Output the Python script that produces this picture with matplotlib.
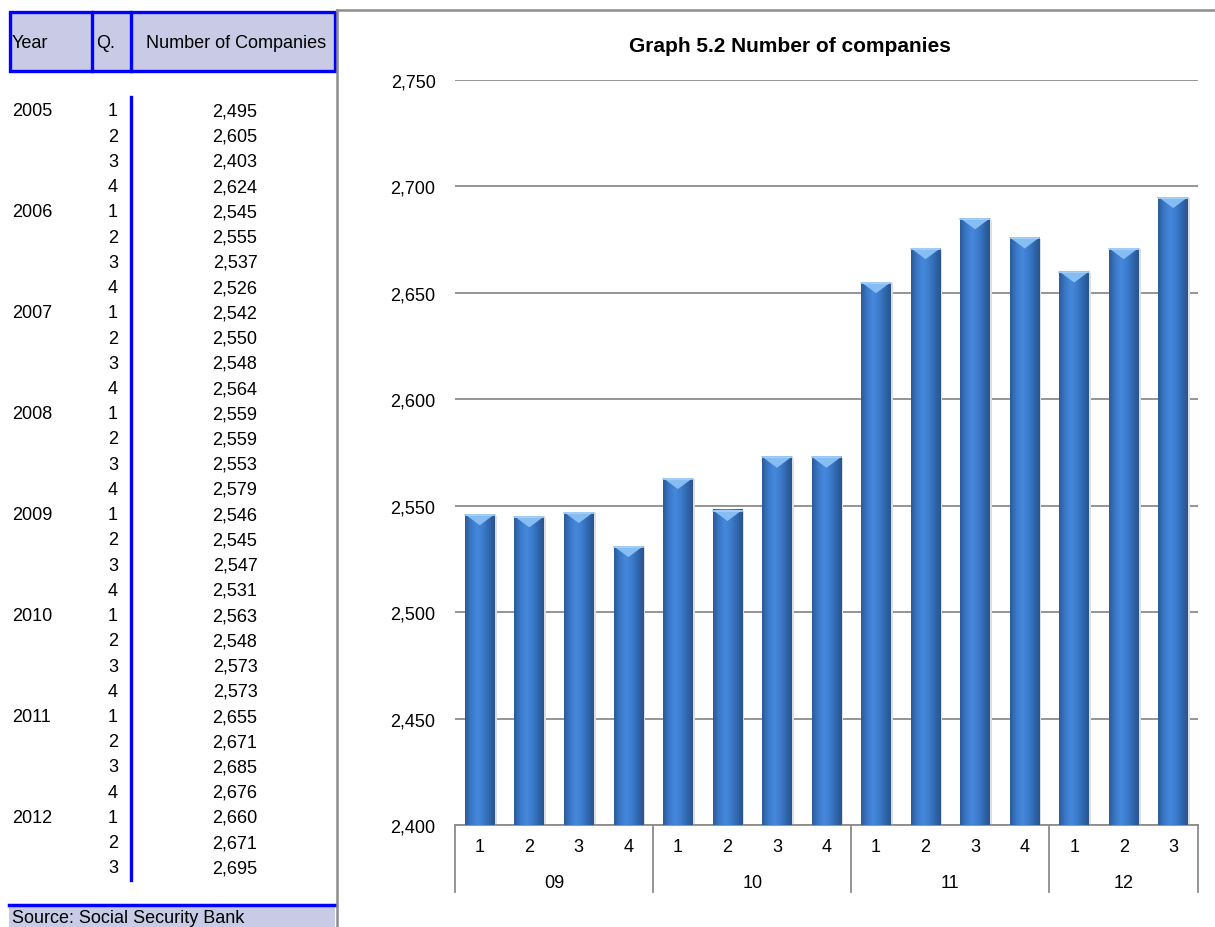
import matplotlib
matplotlib.use('Agg')
import matplotlib.pyplot as plt
import numpy as np
from matplotlib.patches import Rectangle, Polygon
from matplotlib.colors import LinearSegmentedColormap
from matplotlib.ticker import FuncFormatter
import matplotlib.transforms as mtrans

plt.rcParams['font.family'] = ['Liberation Sans', 'DejaVu Sans']

# table data
years = ['2005', '2006', '2007', '2008', '2009', '2010', '2011', '2012']
quarters_per_year = [4, 4, 4, 4, 4, 4, 4, 3]
counts = [2495, 2605, 2403, 2624,
          2545, 2555, 2537, 2526,
          2542, 2550, 2548, 2564,
          2559, 2559, 2553, 2579,
          2546, 2545, 2547, 2531,
          2563, 2548, 2573, 2573,
          2655, 2671, 2685, 2676,
          2660, 2671, 2695]

# chart data (2009 onwards)
group_labels = ['09', '10', '11', '12']
group_sizes = [4, 4, 4, 3]
chart_counts = counts[16:]

W, H = 1215, 928
fig = plt.figure(figsize=(W / 100, H / 100), dpi=100)

blue = '#0000ff'
lav = '#c8cae6'
gray = '#8c8c8c'
fs = 13

# ---- left table, drawn in pixel space ----
ov = fig.add_axes([0, 0, 1, 1])
ov.set_xlim(0, W)
ov.set_ylim(H, 0)
ov.axis('off')

ov.add_patch(Rectangle((10, 13), 325, 59, facecolor=lav, edgecolor=blue, lw=2.4))
ov.plot([92, 92], [13, 72], color=blue, lw=2.4)
ov.plot([131, 131], [13, 72], color=blue, lw=2.4)
ov.text(12, 43, 'Year', fontsize=fs, va='center', ha='left')
ov.text(96, 43, 'Q.', fontsize=fs, va='center', ha='left')
ov.text(236, 43, 'Number of Companies', fontsize=fs, va='center', ha='center')

row_y0, row_dy = 112, 25.23
i = 0
for yr, nq in zip(years, quarters_per_year):
    for q in range(nq):
        y = row_y0 + i * row_dy
        if q == 0:
            ov.text(12, y, yr, fontsize=fs, va='center', ha='left')
        ov.text(118, y, str(q + 1), fontsize=fs, va='center', ha='right')
        ov.text(235, y, f'{counts[i]:,}', fontsize=fs, va='center', ha='center')
        i += 1
ov.plot([131, 131], [98, 881], color=blue, lw=2.4)

# source box
ov.add_patch(Rectangle((9, 906), 326, 30, facecolor=lav, edgecolor='none'))
ov.plot([9, 335], [906, 906], color=blue, lw=2.5)
ov.text(12, 919, 'Source: Social Security Bank', fontsize=fs, va='center', ha='left')

# gray frame around chart area
ov.plot([337, 337], [11, H], color=gray, lw=1.8)
ov.plot([337, W], [11, 11], color=gray, lw=1.8)

# ---- bar chart ----
ax = fig.add_axes([455 / W, 1 - 826 / H, 743 / W, 745 / H])
ymin, ymax = 2400, 2750
x = np.arange(len(chart_counts))
bw = 0.6

grad_cmap = LinearSegmentedColormap.from_list(
    'barg', ['#2b5a98', '#3a78c8', '#4688dc', '#3d7dce', '#3068ae', '#29548f'])
grad = np.linspace(0, 1, 64).reshape(1, -1)
cap_h = (ymax - ymin) * 11 / 745

for xi, v in zip(x, chart_counts):
    # soft shadow
    ax.add_patch(Rectangle((xi - bw / 2 + 0.04, ymin), bw, v - ymin - 0.6,
                           facecolor='#dedede', edgecolor='none', zorder=2))
    ax.imshow(grad, cmap=grad_cmap, aspect='auto', zorder=3,
              extent=(xi - bw / 2, xi + bw / 2, ymin, v), interpolation='bicubic')
    # bevel on top
    ax.add_patch(Polygon([(xi - bw / 2, v), (xi + bw / 2, v), (xi, v - cap_h)],
                         closed=True, facecolor='#86bdf2', edgecolor='none', zorder=4))
    ax.plot([xi - bw / 2, xi + bw / 2], [v - 0.3, v - 0.3], color='#a9d2f7', lw=1.2, zorder=5)

ax.set_xlim(-0.5, len(chart_counts) - 0.5)
ax.set_ylim(ymin, ymax)
ax.set_yticks(np.arange(ymin, ymax + 1, 50))
ax.yaxis.set_major_formatter(FuncFormatter(lambda v, p: f'{int(v):,}'))
ax.yaxis.grid(True, color=gray, lw=1.3)
ax.set_axisbelow(True)
ax.tick_params(axis='y', length=0, pad=14, labelsize=fs)
ax.set_xticks([])
for s in ['left', 'right', 'top']:
    ax.spines[s].set_visible(False)
ax.spines['bottom'].set_color(gray)
ax.spines['bottom'].set_linewidth(1.3)

tr = mtrans.blended_transform_factory(ax.transData, ax.transAxes)
k = 0
bounds = [-0.5]
for g, n in zip(group_labels, group_sizes):
    for q in range(n):
        ax.text(k + q, -0.0295, str(q + 1), transform=tr, ha='center', va='center', fontsize=fs)
    ax.text(k + (n - 1) / 2, -0.077, g, transform=tr, ha='center', va='center', fontsize=fs)
    k += n
    bounds.append(k - 0.5)
for b in bounds:
    ax.plot([b, b], [0, -0.09], transform=tr, color=gray, lw=1.3, clip_on=False)

fig.text(790 / W, 1 - 47 / H, 'Graph 5.2 Number of companies', ha='center', va='center',
         fontsize=15, fontweight='bold')

fig.savefig('out.png', dpi=100)
